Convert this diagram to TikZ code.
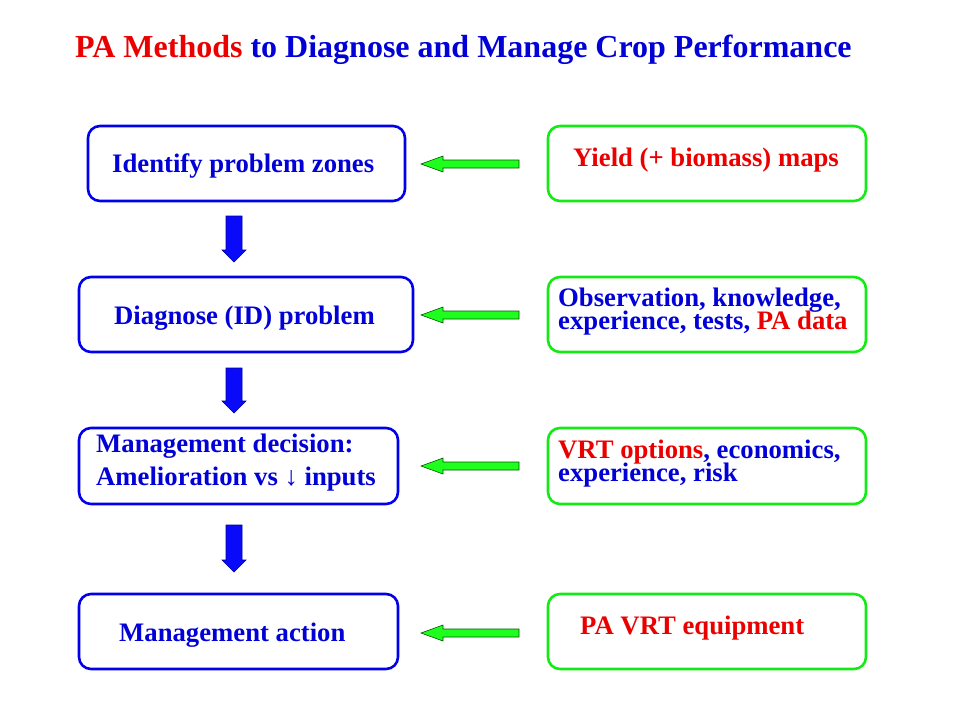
\documentclass[tikz,border=0pt]{standalone}
\usepackage{fontspec}
\setmainfont{Liberation Serif}
\usetikzlibrary{calc,positioning}
\definecolor{BoxBlue}  {RGB}{0,  0, 235}
\definecolor{TextBlue} {RGB}{0,  0, 215}
\definecolor{AlertR}   {RGB}{235, 0,  0}
\definecolor{BoxGreen} {RGB}{20, 235, 20}
\definecolor{ArrowG}   {RGB}{30, 255, 30}
\definecolor{ArrowB}   {RGB}{10,  10, 250}
\newcommand{\tightlines}{\lineskiplimit=-50pt\relax}
\tikzset{
  stepbox/.style={draw=BoxBlue,line width=2.6pt,rounded corners=12pt,
    minimum height=75pt,inner sep=0pt},
  srcbox/.style={draw=BoxGreen,line width=2.6pt,rounded corners=12pt,
    minimum width=318pt,minimum height=75pt,inner sep=0pt},
  boxtext/.style={anchor=west,inner sep=0pt,align=left,text=TextBlue,
    font=\fontsize{26.7}{32}\selectfont\bfseries},
  tighttext/.style={boxtext,
    font=\fontsize{26.7}{#1}\selectfont\bfseries\tightlines},
  downblk/.style={fill=ArrowB,draw=blue!60!black,line width=0.6pt},
  leftblk/.style={fill=ArrowG,draw=green!35!black,line width=0.6pt}
}
% fat arrows between two named coordinates
\newcommand{\blockdown}[2]{%
  \draw[downblk] ($(#1)+(-8,0)$) -- ($(#1)+(8,0)$) -- ($(#2)+(8,-12)$)
    -- ($(#2)+(12,-12)$) -- (#2) -- ($(#2)+(-12,-12)$) -- ($(#2)+(-8,-12)$) -- cycle;}
\newcommand{\blockleft}[2]{%
  \draw[leftblk] ($(#1)+(0,-4)$) -- ($(#1)+(0,4)$) -- ($(#2)+(22,4)$)
    -- ($(#2)+(22,8)$) -- (#2) -- ($(#2)+(22,-8)$) -- ($(#2)+(22,-4)$) -- cycle;}
\begin{document}
\begin{tikzpicture}[x=1pt,y=-1pt]
  \useasboundingbox (0,0) rectangle (960,720);
  % title
  \node[anchor=west,inner sep=0pt,font=\fontsize{32}{38}\selectfont\bfseries]
    (title) at (75,50) {\textcolor{AlertR}{PA Methods}
    \textcolor{TextBlue}{to Diagnose and Manage Crop Performance}};
  % left column: steps
  \node[stepbox,minimum width=317pt] (zones)    at (246.5,163.5) {};
  \node[stepbox,minimum width=334pt] (diagnose) at (246,314.5) {};
  \node[stepbox,minimum width=319pt,minimum height=76pt] (decision) at (238.5,466) {};
  \node[stepbox,minimum width=319pt] (action)   at (238.5,631.5) {};
  \node[boxtext] (zonestxt) at (112,166) {Identify problem zones};
  \node[boxtext] (diagtxt)  at (114,318) {Diagnose (ID) problem};
  \node[tighttext=33] (dectxt) at (96,463)
    {Management decision:\\Amelioration vs ↓ inputs};
  \node[boxtext] (acttxt)   at (119,635) {Management action};
  % right column: sources
  \node[srcbox] (yieldmap) at (707,163.5) {};
  \node[srcbox] (observe)  at (707,314.5) {};
  \node[srcbox,minimum height=76pt] (vrtopt) at (707,466) {};
  \node[srcbox] (equip)    at (707,631.5) {};
  \node[boxtext,text=AlertR] (yieldtxt) at (573,160) {Yield (+ biomass) maps};
  \node[tighttext=23] (obstxt) at (558,312)
    {Observation, knowledge,\\experience, tests, \textcolor{AlertR}{PA data}};
  \node[tighttext=23] (vrttxt) at (558,464)
    {\textcolor{AlertR}{VRT options}, economics,\\experience, risk};
  \node[boxtext,text=AlertR] (equiptxt) at (580,628) {PA VRT equipment};
  % arrows
  \foreach \a/\y in {1/164,2/315,3/466,4/633}{
    \coordinate (g\a s) at (519,\y);
    \coordinate (g\a e) at (421,\y);
    \blockleft{g\a s}{g\a e}}
  \foreach \a/\t/\b in {1/216/262,2/368/413,3/525/572}{
    \coordinate (b\a s) at (234,\t);
    \coordinate (b\a e) at (234,\b);
    \blockdown{b\a s}{b\a e}}
\end{tikzpicture}
\end{document}
